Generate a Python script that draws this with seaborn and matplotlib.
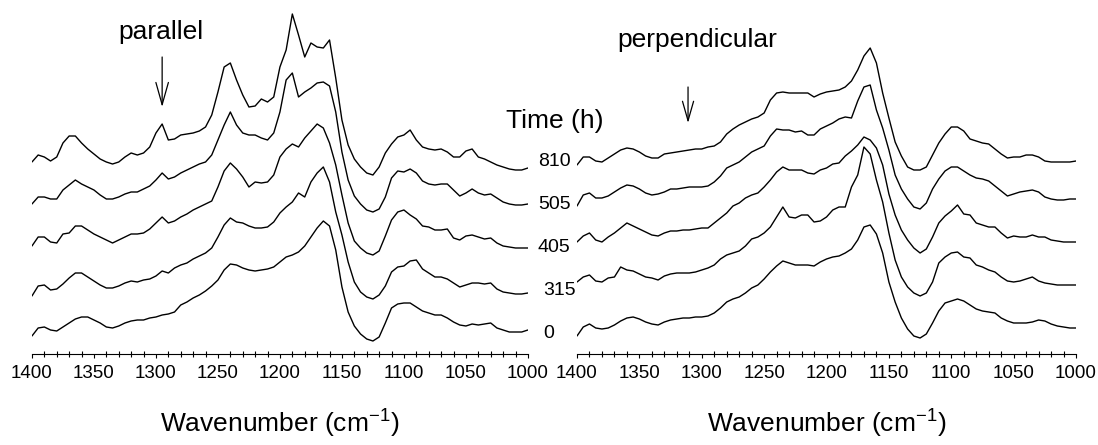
import numpy as np
import seaborn as sns
import matplotlib.pyplot as plt
from matplotlib.ticker import MultipleLocator

# wavenumber grid (cm-1), shared by every spectrum
wavenumber = np.arange(1400, 999, -5)

times = [0, 315, 405, 505, 810]

# parallel polarisation, absorbance (a.u.), 1400 -> 1000 cm-1
par_0 = [3, 11, 12, 9, 8, 12, 16, 20, 22, 22,
         19, 16, 12, 11, 13, 16, 18, 19, 19, 21,
         22, 24, 25, 27, 34, 37, 41, 44, 48, 53,
         59, 69, 75, 74, 71, 69, 68, 69, 70, 72,
         77, 82, 84, 87, 93, 102, 111, 118, 113, 89,
         52, 27, 13, 5, 0, -2, 2, 16, 31, 35,
         36, 36, 32, 28, 26, 24, 24, 21, 17, 14,
         13, 15, 14, 15, 16, 11, 9, 7, 7, 7,
         9]
par_315 = [0, 10, 11, 6, 7, 12, 18, 23, 23, 19,
           15, 11, 8, 8, 10, 13, 15, 14, 16, 17,
           20, 25, 23, 28, 31, 33, 37, 40, 43, 48,
           59, 71, 78, 74, 73, 70, 68, 68, 69, 74,
           83, 89, 94, 103, 99, 114, 123, 129, 114, 84,
           61, 34, 14, 4, -1, -3, 1, 10, 24, 29,
           30, 35, 36, 27, 23, 19, 19, 17, 13, 9,
           11, 13, 13, 12, 13, 7, 4, 3, 2, 2,
           3]
par_405 = [7, 16, 16, 11, 10, 19, 20, 27, 27, 23,
           19, 16, 13, 10, 13, 16, 19, 19, 20, 24,
           30, 36, 30, 32, 36, 39, 43, 46, 49, 52,
           66, 82, 90, 84, 76, 66, 71, 70, 71, 78,
           96, 104, 109, 106, 115, 122, 129, 125, 110, 88,
           58, 30, 12, 5, 0, -2, 2, 17, 33, 41,
           43, 38, 34, 27, 26, 23, 23, 24, 15, 13,
           17, 18, 16, 14, 15, 10, 7, 6, 5, 5,
           5]
par_505 = [6, 13, 13, 11, 11, 20, 25, 30, 26, 23,
           20, 15, 11, 11, 13, 16, 18, 18, 21, 24,
           30, 37, 31, 33, 37, 40, 43, 46, 48, 55,
           70, 85, 98, 85, 77, 75, 75, 72, 70, 77,
           98, 130, 137, 113, 118, 122, 127, 128, 124, 98,
           58, 30, 14, 6, 0, -2, 1, 13, 32, 39,
           38, 41, 37, 29, 26, 25, 26, 26, 20, 14,
           17, 21, 17, 15, 16, 12, 8, 6, 5, 5,
           6]
par_810 = [5, 12, 10, 6, 10, 24, 31, 31, 24, 18,
           13, 8, 5, 3, 5, 10, 14, 12, 14, 20,
           34, 43, 27, 28, 32, 33, 34, 36, 40, 52,
           75, 100, 104, 87, 72, 60, 61, 68, 65, 70,
           100, 117, 153, 132, 110, 124, 120, 119, 127, 89,
           47, 22, 8, 0, -6, -8, 0, 14, 23, 30,
           32, 37, 27, 20, 18, 17, 18, 15, 10, 10,
           16, 18, 10, 8, 5, 2, 0, -2, -3, -3,
           -1]

# perpendicular polarisation
perp_0 = [3, 12, 15, 11, 10, 11, 14, 18, 21, 22,
          20, 17, 15, 14, 17, 19, 20, 21, 21, 22,
          22, 23, 26, 31, 37, 40, 42, 46, 51, 54,
          60, 67, 73, 78, 76, 74, 74, 74, 73, 77,
          80, 82, 83, 86, 90, 99, 112, 114, 105, 86,
          57, 37, 21, 10, 3, 1, 5, 16, 28, 36,
          38, 40, 38, 34, 30, 28, 27, 26, 21, 18,
          16, 16, 16, 17, 19, 18, 15, 13, 12, 11,
          11]
perp_315 = [14, 19, 21, 15, 14, 18, 19, 29, 26, 25,
            22, 19, 18, 16, 20, 22, 23, 23, 23, 24,
            26, 28, 31, 37, 41, 43, 45, 50, 57, 59,
            63, 69, 79, 89, 79, 78, 81, 81, 74, 75,
            79, 86, 89, 89, 109, 121, 149, 142, 116, 94,
            63, 36, 19, 9, 3, 0, 3, 14, 33, 39,
            43, 44, 39, 38, 31, 29, 26, 24, 19, 15,
            14, 15, 17, 19, 15, 13, 12, 11, 11, 11,
            11]
perp_405 = [11, 17, 20, 13, 11, 16, 20, 25, 30, 27,
            24, 21, 18, 17, 20, 22, 22, 23, 23, 24,
            25, 25, 30, 35, 40, 47, 50, 55, 58, 60,
            66, 73, 81, 86, 83, 83, 83, 80, 79, 83,
            85, 89, 90, 97, 102, 108, 116, 113, 105, 88,
            59, 38, 23, 13, 5, 0, 4, 16, 30, 37,
            42, 48, 39, 38, 30, 28, 26, 26, 20, 15,
            17, 16, 16, 18, 16, 16, 13, 12, 11, 11,
            11]
perp_505 = [4, 15, 17, 12, 12, 14, 18, 22, 25, 24,
            21, 17, 15, 16, 18, 21, 21, 22, 23, 23,
            23, 24, 28, 34, 42, 45, 48, 53, 58, 61,
            64, 74, 81, 80, 80, 78, 79, 75, 75, 81,
            84, 87, 91, 93, 92, 109, 123, 125, 100, 82,
            60, 35, 21, 11, 3, 1, 7, 21, 31, 39,
            43, 43, 39, 35, 32, 31, 29, 24, 19, 14,
            16, 18, 19, 20, 18, 13, 11, 10, 10, 11,
            11]
perp_810 = [2, 10, 10, 6, 5, 9, 13, 17, 19, 18,
            15, 11, 9, 9, 13, 14, 15, 16, 17, 18,
            18, 20, 21, 25, 33, 38, 42, 45, 48, 50,
            54, 67, 74, 75, 74, 74, 74, 74, 70, 73,
            75, 76, 77, 80, 86, 97, 111, 119, 104, 74,
            49, 25, 11, 0, -3, -3, 0, 12, 24, 33,
            40, 40, 36, 28, 26, 24, 23, 18, 13, 9,
            10, 10, 12, 12, 10, 6, 5, 5, 5, 5,
            6]

parallel = [par_0, par_315, par_405, par_505, par_810]
perpendicular = [perp_0, perp_315, perp_405, perp_505, perp_810]

sns.set_style("white")
plt.rcParams["font.family"] = ["Liberation Sans", "DejaVu Sans"]
plt.rcParams["mathtext.fontset"] = "custom"
plt.rcParams["mathtext.rm"] = "Liberation Sans"
plt.rcParams["text.color"] = "black"
plt.rcParams["axes.labelcolor"] = "black"
plt.rcParams["xtick.color"] = "black"

fig = plt.figure(figsize=(10.98, 4.45), dpi=100)
ax1 = fig.add_axes([0.0291, 0.2045, 0.4517, 0.7955])
ax2 = fig.add_axes([0.5255, 0.2045, 0.4545, 0.7955])

step = 43
base = 15


def draw_panel(ax, spectra):
    for k, spec in enumerate(spectra):
        y = np.array(spec) + base + k * step
        sns.lineplot(x=wavenumber, y=y, ax=ax, color="black", lw=1.0, sort=False)
    ax.set_xlim(1400, 1000)
    ax.set_ylim(0, 354)
    ax.set_yticks([])
    ax.set_ylabel("")
    for s in ["top", "left", "right"]:
        ax.spines[s].set_visible(False)
    ax.spines["bottom"].set_linewidth(0.8)
    ax.spines["bottom"].set_color("black")
    ax.xaxis.set_major_locator(MultipleLocator(50))
    ax.xaxis.set_minor_locator(MultipleLocator(10))
    ax.tick_params(axis="x", which="major", direction="out", length=3, width=0.8,
                   pad=5, labelsize=13.5, colors="black", bottom=True)
    ax.tick_params(axis="x", which="minor", direction="inout", length=4, width=0.8,
                   bottom=True)
    ax.set_xlabel("Wavenumber (cm$^{\\mathregular{-1}}$)", fontsize=19, labelpad=17,
                  color="black")
    ax.patch.set_alpha(0)


draw_panel(ax1, parallel)
draw_panel(ax2, perpendicular)

ax1.text(1296, 315, "parallel", ha="center", va="baseline", fontsize=19)
ax1.annotate("", xy=(1295, 247), xytext=(1295, 297),
             arrowprops=dict(arrowstyle="->,head_length=1.6,head_width=0.45",
                             color="black", lw=0.9, shrinkA=0, shrinkB=0,
                             mutation_scale=10))
ax2.text(1304, 307, "perpendicular", ha="center", va="baseline", fontsize=19)
ax2.annotate("", xy=(1311, 231), xytext=(1311, 267),
             arrowprops=dict(arrowstyle="->,head_length=1.4,head_width=0.4",
                             color="black", lw=0.9, shrinkA=0, shrinkB=0,
                             mutation_scale=10))

fig.text(555 / 1098, (445 - 128) / 445, "Time (h)", ha="center", va="baseline", fontsize=19)

label_x = [988, 988, 992, 992, 992]
for k, t in enumerate(times):
    ax1.text(label_x[k], base + k * step + 5, str(t), ha="left", va="center",
             fontsize=14, clip_on=False)

fig.savefig("out.png", dpi=100)
